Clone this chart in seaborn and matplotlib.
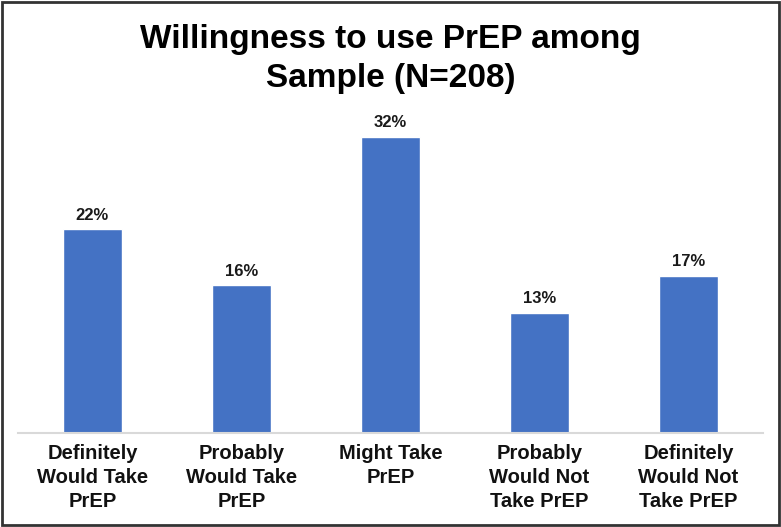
import matplotlib
matplotlib.use('Agg')
import matplotlib.pyplot as plt
import seaborn as sns
import pandas as pd
from matplotlib.patches import Rectangle

categories = ['Definitely\nWould Take\nPrEP', 'Probably\nWould Take\nPrEP', 'Might Take\nPrEP',
              'Probably\nWould Not\nTake PrEP', 'Definitely\nWould Not\nTake PrEP']
percents = [22, 16, 32, 13, 17]

sns.set_theme(style='white')
plt.rcParams['font.family'] = ['Liberation Sans', 'DejaVu Sans']

df = pd.DataFrame({'category': categories, 'percent': percents})

fig = plt.figure(figsize=(7.81, 5.27), dpi=100)
ax = fig.add_axes([0.023, 0.178, 0.954, 0.615])
sns.barplot(data=df, x='category', y='percent', color='#4472C4', saturation=1, width=0.4, ax=ax)

for i, v in enumerate(percents):
    ax.text(i, v + 0.7, f'{v}%', ha='center', va='bottom', fontsize=12, fontweight='bold', color='#1a1a1a')

ax.set_ylim(0, 35)
ax.set_xlim(-0.5, 4.5)
ax.set_yticks([])
ax.set_xlabel('')
ax.set_ylabel('')
for s in ['top', 'left', 'right']:
    ax.spines[s].set_visible(False)
ax.spines['bottom'].set_color('#d9d9d9')
ax.spines['bottom'].set_linewidth(1.5)
ax.tick_params(axis='x', length=0, pad=8)
for lbl in ax.get_xticklabels():
    lbl.set_fontsize(14.5)
    lbl.set_fontweight('bold')
    lbl.set_color('#111111')
    lbl.set_linespacing(1.32)

fig.text(0.5, 0.888, 'Willingness to use PrEP among\nSample (N=208)', ha='center', va='center',
         fontsize=24, fontweight='bold', color='black', linespacing=1.3)

fig.patches.append(Rectangle((0.002, 0.003), 0.996, 0.994, transform=fig.transFigure,
                             fill=False, edgecolor='#333333', linewidth=2))

fig.savefig('out.png', dpi=100)
